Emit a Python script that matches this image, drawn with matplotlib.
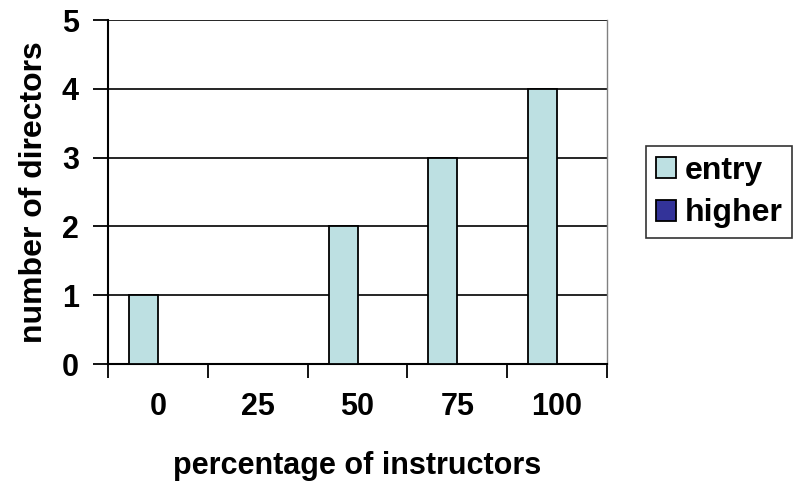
import matplotlib.pyplot as plt
import numpy as np

# percentage of instructors holding each qualification level
categories = ['0', '25', '50', '75', '100']
entry = [1, 0, 2, 3, 4]
higher = [0, 0, 0, 0, 0]
y_ticks = [0, 1, 2, 3, 4, 5]

plt.rcParams['font.family'] = ['Liberation Sans', 'DejaVu Sans']
plt.rcParams['font.weight'] = 'bold'


def main():
    fig = plt.figure(figsize=(7.95, 4.9), dpi=100)
    ax = fig.add_axes([108 / 795, 1 - 364 / 490, 499 / 795, 344 / 490])

    x = np.arange(len(categories))
    w = 0.29
    ax.bar(x - w / 2, entry, w, color='#bde0e2', edgecolor='black', linewidth=1.3,
           label='entry', zorder=3)
    ax.bar(x + w / 2, higher, w, color='#333399', edgecolor='black', linewidth=1.3,
           label='higher', zorder=3)

    ax.set_xlim(-0.5, len(categories) - 0.5)
    ax.set_ylim(0, 5)
    ax.set_yticks(y_ticks)
    ax.yaxis.grid(True, color='black', linewidth=1.2, zorder=0)
    ax.set_axisbelow(True)

    ax.set_xticks(x)
    ax.set_xticklabels(categories, fontsize=22, fontweight='bold')
    ax.set_xticks(np.arange(-0.5, len(categories)), minor=True)
    ax.tick_params(axis='x', which='major', length=0, pad=20)
    ax.tick_params(axis='x', which='minor', length=10, width=1.3, direction='out')
    ax.tick_params(axis='y', length=11, width=1.3, direction='out', pad=10, labelsize=22)
    for lbl in ax.get_yticklabels():
        lbl.set_fontweight('bold')

    for side in ['left', 'bottom']:
        ax.spines[side].set_linewidth(1.5)
    ax.spines['top'].set_visible(False)
    ax.spines['right'].set_color('#808080')
    ax.spines['right'].set_linewidth(1)

    ax.set_xlabel('percentage of instructors', fontsize=22, fontweight='bold', labelpad=21)
    ax.set_ylabel('number of directors', fontsize=23, fontweight='bold', labelpad=9)

    leg = fig.legend(loc='center left', bbox_to_anchor=(646 / 795, 1 - 192 / 490),
                     fontsize=23, frameon=True, fancybox=False, edgecolor='black',
                     handlelength=0.65, handleheight=0.65, handletextpad=0.25,
                     borderpad=0.3, labelspacing=0.4, borderaxespad=0)
    leg.get_frame().set_linewidth(1.2)
    for t in leg.get_texts():
        t.set_fontweight('bold')

    fig.savefig('out.png', dpi=100)


if __name__ == '__main__':
    main()
